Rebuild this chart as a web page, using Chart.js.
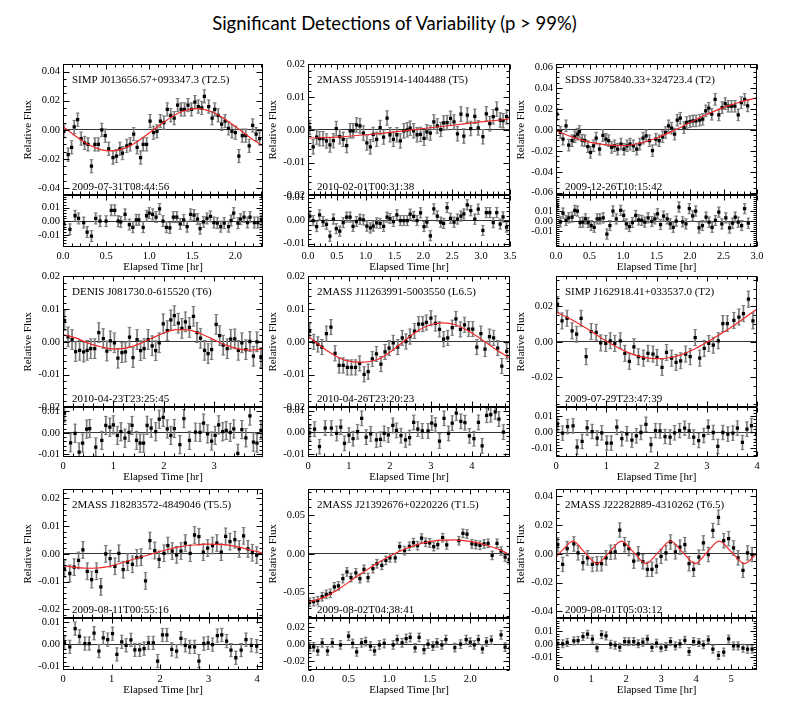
<!DOCTYPE html>
<html>
<head>
<meta charset="utf-8">
<title>Significant Detections of Variability</title>
<script src="https://cdn.jsdelivr.net/npm/chart.js@4.4.1/dist/chart.umd.min.js"></script>
<style>
  html, body { margin: 0; padding: 0; background: #fff; }
  #page { position: relative; width: 789px; height: 702px; overflow: hidden; background: #fff; }
  #title {
    position: absolute; left: 0; top: 11px; width: 789px;
    text-align: center; font: 18.5px Lato, "Open Sans", sans-serif; line-height: 24px; color: #000;
  }
  canvas { position: absolute; }
</style>
</head>
<body>
<div id="page">
  <div id="title">Significant Detections of Variability (p &gt; 99%)</div>
</div>
<script>
// ---- Light curves: elapsed time [hr], relative flux, residuals, fitted model ----

// SIMP J013656.57+093347.3
const p1Time = [0.01,0.06,0.1,0.13,0.17,0.21,0.25,0.29,0.33,0.37,0.41,0.45,0.49,0.53,0.58,0.62,0.66,0.69,0.74,0.78,0.82,0.86,0.9,0.93,0.97,1.01,1.05,1.09,1.13,1.17,1.21,1.25,1.29,1.33,1.37,1.41,1.45,1.49,1.53,1.57,1.61,1.64,1.69,1.73,1.76,1.8,1.84,1.88,1.92,1.96,2.0,2.04,2.08,2.12,2.16,2.2,2.24,2.28];
const p1Flux = [-0.001,-0.017,-0.012,0.002,0.007,-0.006,-0.009,-0.010,-0.025,-0.010,-0.010,0.000,-0.004,-0.013,-0.019,-0.018,-0.013,-0.016,-0.011,-0.010,-0.003,-0.012,-0.019,-0.010,-0.010,0.006,-0.002,-0.001,0.006,0.005,0.014,0.010,0.008,0.017,0.014,0.014,0.017,0.014,0.019,0.016,0.015,0.023,0.016,0.008,0.014,0.010,0.004,0.006,0.001,-0.001,-0.002,-0.018,-0.004,-0.004,-0.011,0.003,-0.003,-0.006];
const p1ResTime = [0.01,0.08,0.14,0.18,0.24,0.28,0.33,0.38,0.43,0.5,0.56,0.6,0.64,0.67,0.72,0.77,0.81,0.85,0.88,0.93,0.97,1.0,1.04,1.08,1.12,1.16,1.2,1.24,1.28,1.32,1.36,1.4,1.44,1.48,1.52,1.56,1.59,1.63,1.67,1.71,1.75,1.79,1.83,1.87,1.92,1.95,1.98,2.03,2.06,2.1,2.14,2.17,2.22,2.26,2.3];
const p1Res = [-0.002,-0.006,0.004,0.002,-0.001,-0.008,-0.011,0.002,0.0,0.0,0.008,0.008,0.0,-0.0005,0.005,-0.0025,-0.0045,0.001,0.001,-0.0045,0.004,0.006,0.005,0.003,0.009,0.0,-0.0045,-0.005,0.003,0.003,-0.002,0.001,-0.004,0.005,0.0045,0.0015,-0.0055,-0.0005,0.002,0.0035,-0.001,-0.0015,-0.004,-0.0015,-0.004,0.0005,0.006,-0.0015,0.0015,0.003,-0.001,0.003,-0.001,-0.001,0.0005];
const p1FitTime = [0,0.15,0.3,0.45,0.55,0.7,0.85,1.05,1.25,1.4,1.55,1.7,1.85,2.05,2.2,2.32];
const p1Fit = [0.0023,-0.0045,-0.0103,-0.0138,-0.0145,-0.0129,-0.0085,0,0.0085,0.0129,0.0145,0.0129,0.0085,0,-0.0066,-0.0109];

// 2MASS J05591914-1404488
const p2Time = [0.03,0.09,0.15,0.2,0.26,0.32,0.38,0.44,0.49,0.55,0.61,0.67,0.73,0.78,0.84,0.9,0.96,1.02,1.08,1.13,1.19,1.25,1.31,1.37,1.42,1.48,1.54,1.6,1.66,1.72,1.77,1.83,1.89,1.95,2.01,2.06,2.12,2.18,2.24,2.3,2.35,2.41,2.47,2.53,2.59,2.65,2.7,2.76,2.82,2.89,2.95,3.03,3.09,3.15,3.21,3.27,3.33,3.38,3.44];
const p2Flux = [0.0007,-0.0052,-0.0022,-0.0027,-0.0027,-0.0034,-0.0046,-0.0033,0.0004,-0.0021,-0.0029,-0.0048,-0.0003,-0.0003,0.0015,0.0012,-0.001,-0.004,-0.0052,-0.0014,-0.0029,0.0007,-0.0022,0.0036,-0.0015,-0.0029,-0.0015,-0.0034,-0.0003,0.0,0.0005,-0.0003,-0.0015,-0.0014,-0.0026,-0.0006,-0.001,0.0024,0.0012,0.0001,0.0021,0.0022,0.0035,0.0024,-0.0012,0.0048,-0.0019,0.0045,0.0004,0.0041,0.0006,-0.0021,0.0049,0.0019,0.004,0.0063,0.003,0.0028,0.004];
const p2ResTime = p2Time;
const p2Res = [0.002,0.0,-0.0026,0.0025,-0.0004,-0.0016,-0.0068,0.0007,-0.0035,-0.0046,-0.0009,0.0015,0.0015,-0.0025,-0.0004,0.0006,0.0003,-0.0024,-0.0032,-0.0024,-0.001,-0.0012,-0.0025,0.0015,0.0009,-0.0004,0.0025,0.0,0.0,0.0,0.0028,0.0018,0.0,0.0034,-0.0026,-0.0007,-0.0066,0.0051,0.002,-0.0007,-0.0012,0.0057,0.001,-0.0007,0.0007,0.002,0.0029,0.0069,0.0043,0.0006,0.005,-0.0043,0.0035,0.0035,-0.0009,0.0035,-0.0015,0.0016,-0.0028];
const p2FitTime = [0,0.5,1,1.5,2,2.5,3,3.5];
const p2Fit = [-0.0025,-0.0022,-0.0015,-0.0006,0.0004,0.0014,0.0024,0.0033];

// SDSS J075840.33+324723.4
const p3Time = [0.015,0.065,0.105,0.15,0.19,0.24,0.28,0.32,0.35,0.39,0.43,0.475,0.515,0.56,0.6,0.65,0.7,0.745,0.785,0.83,0.875,0.92,0.97,1.015,1.06,1.105,1.155,1.205,1.25,1.3,1.345,1.395,1.44,1.49,1.54,1.59,1.635,1.68,1.725,1.77,1.81,1.855,1.91,1.95,2.0,2.045,2.09,2.145,2.19,2.235,2.28,2.325,2.375,2.43,2.48,2.525,2.57,2.62,2.67,2.72,2.765,2.815,2.86];
const p3Flux = [0.0149,-0.0025,-0.0089,0.0038,-0.0146,-0.0104,-0.0066,-0.0041,-0.0016,-0.0098,-0.0104,-0.0161,-0.0215,-0.0152,-0.0079,-0.0184,-0.0054,-0.0089,-0.0104,-0.0168,-0.0152,-0.0184,-0.0136,-0.0184,-0.0152,-0.0136,-0.0152,-0.0184,-0.0136,-0.0079,-0.0057,-0.0104,-0.0199,-0.0089,-0.0104,-0.0066,-0.0025,0.0038,0.0016,-0.0041,0.0092,0.0111,0.0022,0.007,0.0079,0.0085,0.0085,0.0092,0.0101,0.018,0.0206,0.0149,0.0291,0.0142,0.0212,0.025,0.0225,0.0225,0.0225,0.0142,0.0259,0.0291,0.0228];
const p3ResTime = [0.015,0.065,0.105,0.15,0.19,0.24,0.28,0.32,0.36,0.4,0.44,0.48,0.525,0.57,0.615,0.655,0.705,0.76,0.805,0.85,0.9,0.965,1.01,1.05,1.095,1.14,1.19,1.235,1.28,1.325,1.375,1.43,1.475,1.515,1.56,1.605,1.66,1.705,1.75,1.795,1.835,1.89,1.94,1.99,2.04,2.085,2.135,2.185,2.24,2.285,2.33,2.38,2.43,2.475,2.535,2.59,2.635,2.675,2.72,2.77,2.815,2.87];
const p3Res = [0.015,-0.0007,0.008,0.0007,0.0033,0.004,0.0107,0.01,-0.0013,-0.001,0.0023,-0.0013,-0.0043,-0.006,0.0023,0.0023,0.0033,-0.0127,-0.0043,0.01,0.0023,0.0107,0.0057,-0.0027,-0.0053,-0.0013,0.0057,0.0013,0.0007,-0.001,0.0033,-0.0003,0.0023,0.0073,-0.0033,0.005,0.0023,-0.0027,-0.006,0.0,0.014,-0.0007,-0.0027,0.0123,0.0053,0.01,-0.0067,-0.0043,0.004,-0.001,-0.006,0.0007,0.009,-0.0027,0.0033,-0.0067,-0.002,0.004,-0.001,-0.0043,0.0123,-0.002];
const p3FitTime = [0,0.25,0.5,0.75,1,1.25,1.5,1.75,2,2.25,2.5,2.75,3];
const p3Fit = [-0.001,-0.007,-0.0118,-0.0143,-0.015,-0.0128,-0.0078,-0.001,0.007,0.0148,0.0212,0.0265,0.0305];

// DENIS J081730.0-615520
const p4Time = [0.03,0.1,0.18,0.25,0.33,0.41,0.48,0.55,0.63,0.71,0.8,0.87,0.94,1.02,1.09,1.17,1.24,1.32,1.39,1.47,1.54,1.61,1.69,1.77,1.84,1.91,1.99,2.07,2.14,2.21,2.29,2.36,2.43,2.51,2.59,2.66,2.73,2.81,2.88,2.95,3.04,3.11,3.18,3.26,3.33,3.41,3.48,3.55,3.63,3.71,3.78,3.85,3.93];
const p4Flux = [0.0065,0.0015,0.0007,-0.003,-0.0026,-0.0031,-0.0026,-0.0021,-0.0021,0.0028,0.001,-0.0028,0.0003,-0.0003,-0.005,-0.0033,-0.0031,0.0014,-0.0048,0.0007,-0.0027,-0.0021,0.0007,-0.0012,-0.0027,-0.0003,0.0055,0.0034,0.0067,0.008,0.0057,0.0041,0.0061,0.0044,0.0078,0.0028,0.0011,-0.0026,-0.0036,-0.0024,0.0053,0.0019,-0.001,-0.0021,0.0008,0.0009,-0.0026,-0.0003,-0.0024,0.0001,-0.0044,0.0,-0.0048];
const p4ResTime = [0.03,0.15,0.24,0.32,0.39,0.47,0.53,0.65,0.77,0.85,0.93,1.0,1.08,1.15,1.23,1.31,1.37,1.46,1.53,1.6,1.67,1.75,1.84,1.91,1.99,2.07,2.14,2.21,2.32,2.4,2.51,2.63,2.72,2.79,2.87,2.95,3.02,3.09,3.17,3.24,3.32,3.39,3.47,3.55,3.63,3.71,3.78,3.85,3.93];
const p4Res = [0.0091,-0.0046,-0.0002,-0.0089,-0.0048,0.0017,0.002,-0.0066,-0.0035,0.0034,0.0026,0.0037,-0.0012,0.0005,-0.0025,0.0002,0.0034,-0.0035,-0.0048,-0.0048,0.0035,0.0022,0.0005,0.0063,0.0072,0.0018,-0.0012,0.002,-0.0055,0.0066,-0.0035,0.0003,0.0002,0.0045,-0.0005,-0.0038,-0.0012,0.0037,0.0005,0.0011,0.0002,0.0018,-0.0095,0.0015,-0.0023,0.0078,-0.0043,-0.0048,0.0011];
const p4FitTime = [0,0.25,0.5,0.75,1,1.25,1.5,1.75,2,2.25,2.5,2.75,3,3.25,3.5,3.75,3.97];
const p4Fit = [0.0022,0.0012,-0.0004,-0.0015,-0.0022,-0.0019,-0.0007,0.001,0.0027,0.0037,0.0036,0.0024,0.0006,-0.0011,-0.0022,-0.0025,-0.0022];

// 2MASS J11263991-5003550
const p5Time = [0.04,0.14,0.24,0.34,0.45,0.56,0.66,0.76,0.86,0.96,1.06,1.16,1.26,1.37,1.47,1.57,1.67,1.78,1.88,1.98,2.08,2.19,2.3,2.39,2.49,2.6,2.7,2.8,2.89,3.0,3.11,3.21,3.31,3.41,3.52,3.61,3.72,3.82,3.92,4.02,4.12,4.22,4.32,4.43,4.53,4.63,4.73,4.85];
const p5Flux = [0.0033,0.0,-0.0008,-0.0016,0.0025,0.0045,-0.0035,-0.0072,-0.0072,-0.0078,-0.0078,-0.0078,-0.0066,-0.0099,-0.0091,-0.0052,-0.0037,-0.0068,-0.0031,-0.0019,-0.0003,-0.0016,0.0012,0.0001,0.0016,0.0033,0.0054,0.0054,0.0059,0.0072,0.0056,0.0038,0.0008,0.0012,0.0043,0.007,0.0038,0.0052,0.0039,0.0039,-0.0016,0.0025,-0.0022,0.0016,0.0012,-0.0019,-0.0074,-0.0029];
const p5ResTime = [0.04,0.16,0.28,0.42,0.57,0.7,0.8,0.89,1.0,1.1,1.21,1.31,1.42,1.53,1.67,1.77,1.86,1.96,2.07,2.16,2.27,2.38,2.48,2.58,2.68,2.79,2.93,3.02,3.11,3.21,3.32,3.43,3.52,3.62,3.73,3.83,3.94,4.05,4.16,4.25,4.36,4.46,4.57,4.66,4.77];
const p5Res = [-0.0003,0.0014,-0.0067,0.0019,0.0019,-0.0006,0.0023,-0.0052,-0.0014,-0.003,0.0002,0.0064,-0.0023,-0.0008,-0.0036,-0.0033,-0.0006,-0.0013,0.0031,0.0008,-0.0016,-0.0036,-0.0025,0.0045,0.0014,0.0006,0.0006,0.0042,0.0033,-0.0041,0.0064,-0.0006,0.0042,0.0088,0.005,0.0044,-0.0017,-0.003,0.0045,-0.0063,0.0078,0.0081,0.0094,0.0061,0.0];
const p5FitTime = [0,0.3,0.6,0.9,1.3,1.7,2,2.3,2.7,3,3.3,3.6,4,4.3,4.6,4.93];
const p5Fit = [0.0018,-0.0012,-0.0038,-0.0056,-0.0063,-0.0054,-0.0032,-0.0002,0.0035,0.0053,0.0058,0.0052,0.0027,0.0002,-0.0025,-0.005];

// SIMP J162918.41+033537.0
const p6Time = [0.03,0.12,0.22,0.32,0.41,0.5,0.6,0.7,0.8,0.89,0.99,1.08,1.17,1.28,1.37,1.46,1.55,1.64,1.74,1.83,1.93,2.01,2.11,2.2,2.3,2.39,2.48,2.58,2.67,2.77,2.86,2.95,3.04,3.13,3.23,3.32,3.41,3.54,3.64,3.73,3.83,3.92];
const p6Flux = [0.0211,0.0118,0.0133,0.0062,0.0043,0.0133,-0.0084,0.0058,0.0054,-0.0006,-0.0009,0.0006,-0.0009,0.0006,-0.0065,-0.011,-0.0028,-0.0084,-0.0092,-0.0065,-0.0069,-0.0088,-0.0144,-0.006,-0.0092,-0.0116,-0.0107,-0.0069,-0.0084,0.0024,-0.0092,-0.0037,-0.0009,-0.0019,0.0006,0.0103,0.0103,0.0121,0.014,0.0159,0.0241,0.0118];
const p6ResTime = [0.03,0.13,0.23,0.34,0.42,0.52,0.62,0.72,0.82,0.91,1.01,1.1,1.21,1.31,1.41,1.51,1.6,1.69,1.79,1.89,1.98,2.07,2.17,2.27,2.36,2.46,2.56,2.65,2.74,2.84,2.94,3.03,3.13,3.22,3.32,3.42,3.52,3.61,3.71,3.8,3.89,3.99];
const p6Res = [0.0052,-0.0006,0.0035,0.0039,-0.0093,-0.0058,0.0027,0.0004,-0.0037,-0.0004,-0.0068,-0.0068,0.0031,-0.0041,-0.001,-0.0049,-0.0023,-0.0002,0.0049,-0.0078,0.001,0.0008,-0.0027,-0.0031,-0.0004,0.001,0.0025,0.0008,-0.0031,-0.0052,-0.0021,0.0031,-0.0002,-0.0089,-0.0002,-0.0012,-0.0006,0.0025,-0.0064,0.0019,0.0041,-0.001];
const p6FitTime = [0,0.25,0.5,0.75,1,1.25,1.5,1.75,2,2.25,2.5,2.75,3,3.25,3.5,3.75,4];
const p6Fit = [0.0168,0.0135,0.0095,0.005,0.0005,-0.0035,-0.0068,-0.0088,-0.0095,-0.009,-0.0072,-0.0042,-0.0003,0.004,0.0085,0.0135,0.0185];

// 2MASS J18283572-4849046
const p7Time = [0.03,0.14,0.23,0.32,0.41,0.5,0.59,0.69,0.78,0.88,0.97,1.07,1.15,1.24,1.33,1.43,1.52,1.61,1.7,1.79,1.89,1.98,2.08,2.16,2.25,2.34,2.43,2.52,2.62,2.71,2.8,2.89,2.98,3.08,3.17,3.26,3.35,3.44,3.54,3.63,3.72,3.81,3.9,3.99];
const p7Flux = [-0.0054,-0.0071,-0.0048,-0.0024,0.0014,-0.0063,-0.0093,-0.0063,-0.0119,0.0,-0.0017,-0.0045,0.0002,-0.0057,-0.003,-0.0038,-0.0014,-0.0012,-0.0098,0.0048,0.0012,-0.002,0.0002,0.003,0.001,-0.0004,0.001,0.0039,0.0002,0.0068,0.0062,0.0006,0.0021,0.003,0.0039,0.0006,0.0063,0.0044,0.0051,0.0018,0.0065,0.0018,0.0004,-0.0005];
const p7ResTime = [0.03,0.14,0.25,0.34,0.45,0.54,0.64,0.74,0.83,0.92,1.02,1.11,1.21,1.3,1.4,1.48,1.58,1.67,1.76,1.86,1.95,2.05,2.14,2.24,2.34,2.43,2.52,2.61,2.71,2.8,2.9,2.99,3.08,3.18,3.27,3.37,3.46,3.56,3.67,3.77,3.88,3.99];
const p7Res = [0.0006,-0.0012,0.0071,0.0036,0.0003,0.0003,0.005,-0.0032,0.0029,0.0021,0.0048,-0.0047,0.0011,-0.0005,0.002,-0.0026,-0.0026,-0.002,0.0006,0.0006,-0.0077,0.0042,0.0042,-0.0024,-0.0032,0.0027,-0.0005,-0.0012,-0.0012,-0.0077,0.0002,0.0006,-0.0002,0.0039,0.0042,0.0014,-0.0027,-0.0062,-0.0027,0.0021,-0.0005,-0.0009];
const p7FitTime = [0,0.3,0.6,0.9,1.2,1.5,1.8,2.1,2.4,2.7,3,3.3,3.6,3.9,4.12];
const p7Fit = [-0.0043,-0.005,-0.0052,-0.0047,-0.0033,-0.0017,-0.0002,0.0013,0.0025,0.0032,0.0035,0.0033,0.0025,0.0012,0.0003];

// 2MASS J21392676+0220226
const p8Time = [0.02,0.07,0.12,0.175,0.225,0.275,0.325,0.375,0.43,0.48,0.53,0.59,0.64,0.69,0.74,0.8,0.85,0.91,0.96,1.01,1.075,1.13,1.19,1.25,1.3,1.35,1.4,1.45,1.5,1.55,1.6,1.66,1.71,1.86,1.91,1.96,2.02,2.07,2.12,2.17,2.22,2.27,2.33,2.38,2.43,2.48];
const p8Flux = [-0.0623,-0.0614,-0.0602,-0.0551,-0.0521,-0.0508,-0.0424,-0.0411,-0.0318,-0.0233,-0.0305,-0.0246,-0.0318,-0.0199,-0.0305,-0.0191,-0.0127,-0.0148,-0.0085,-0.0051,-0.0051,0.0093,0.0042,0.0097,0.0144,0.0106,0.0203,0.0148,0.014,0.0093,0.0119,0.0208,0.0114,0.0169,0.0263,0.0254,0.0127,0.0119,0.011,0.0127,0.0136,-0.0021,0.0136,0.0034,-0.0042,-0.0076];
const p8ResTime = [0.02,0.07,0.12,0.175,0.24,0.3,0.4,0.5,0.55,0.6,0.66,0.71,0.77,0.82,0.88,0.94,1.05,1.1,1.16,1.21,1.26,1.32,1.37,1.43,1.48,1.54,1.59,1.65,1.7,1.81,1.88,1.95,2.0,2.05,2.1,2.15,2.2,2.26,2.38,2.43,2.49];
const p8Res = [-0.0031,-0.0031,-0.0078,0.0016,-0.0078,0.0016,-0.0008,0.0093,0.0008,-0.0089,0.0016,0.0031,-0.0023,-0.0078,-0.0008,0.0008,-0.0008,0.0054,0.0016,0.0066,0.0078,-0.0043,0.0078,-0.0062,0.0,-0.0023,0.0016,-0.0008,0.0054,-0.0039,0.0,0.0054,0.0023,-0.0008,0.0054,-0.0054,0.0027,0.0047,0.0109,-0.0035,-0.0047];
const p8FitTime = [0,0.2,0.4,0.6,0.8,1,1.2,1.4,1.6,1.8,2,2.2,2.4,2.49];
const p8Fit = [-0.062,-0.056,-0.044,-0.029,-0.0155,-0.0035,0.0065,0.0135,0.0172,0.018,0.016,0.011,0.0035,-0.0015];

// 2MASS J22282889-4310262
const p9Time = [0.05,0.19,0.32,0.51,0.63,0.77,0.9,1.04,1.17,1.3,1.43,1.56,1.69,1.82,1.96,2.08,2.22,2.35,2.48,2.61,2.74,2.87,3.0,3.14,3.27,3.41,3.54,3.68,3.8,3.93,4.08,4.21,4.35,4.48,4.64,4.79,4.93,5.07,5.2,5.34,5.47,5.6];
const p9Flux = [0.0064,-0.0074,0.0037,0.0069,0.0007,-0.0062,-0.0028,-0.0074,-0.0069,-0.0069,-0.0028,0.0011,0.0014,0.0166,0.0064,0.0037,-0.0051,0.0,-0.0055,-0.0108,-0.0108,-0.0085,-0.0018,0.0007,0.0083,0.0014,0.0046,0.0064,-0.0069,-0.0108,-0.0023,0.0076,-0.0005,0.0163,0.0255,0.0092,0.0106,0.0041,-0.0028,-0.0115,0.0007,-0.0005];
const p9ResTime = p9Time;
const p9Res = [0.0003,0.0003,0.0013,0.0025,0.0028,0.0058,0.0076,0.0038,-0.0028,0.0073,0.0063,0.0,-0.0008,-0.0023,0.002,0.0018,0.002,0.0003,0.0015,0.0038,-0.0025,0.0008,-0.0028,-0.0018,0.002,-0.0013,0.0003,0.003,-0.0056,0.002,0.0013,-0.0005,0.0033,-0.0038,-0.0086,-0.006,0.004,-0.0013,-0.0013,-0.003,-0.0038,-0.0038];
const p9FitTime = [0,0.24,0.48,0.82,1.17,1.52,1.87,2.22,2.57,2.92,3.27,3.62,3.97,4.31,4.66,5.02,5.38,5.74];
const p9Fit = [-0.0023,0.004,0.0088,0.001,-0.0068,0.001,0.0088,0.001,-0.0068,0.001,0.0088,0.001,-0.0068,0.001,0.0088,0.001,-0.0068,0.0005];

// Panel labels
const panelNames = [
  'SIMP J013656.57+093347.3 (T2.5)', '2MASS J05591914-1404488 (T5)', 'SDSS J075840.33+324723.4 (T2)',
  'DENIS J081730.0-615520 (T6)', '2MASS J11263991-5003550 (L6.5)', 'SIMP J162918.41+033537.0 (T2)',
  '2MASS J18283572-4849046 (T5.5)', '2MASS J21392676+0220226 (T1.5)', '2MASS J22282889-4310262 (T6.5)'
];
const panelDates = [
  '2009-07-31T08:44:56', '2010-02-01T00:31:38', '2009-12-26T10:15:42',
  '2010-04-23T23:25:45', '2010-04-26T23:20:23', '2009-07-29T23:47:39',
  '2009-08-11T00:55:16', '2009-08-02T04:38:41', '2009-08-01T05:03:12'
];

// Typical error bar half-lengths (main light curve / residuals)
const mainErr = [0.0045, 0.0022, 0.0055, 0.003, 0.0023, 0.0045, 0.003, 0.0055, 0.005];
const resErr = [0.004, 0.0022, 0.005, 0.0042, 0.0034, 0.0045, 0.003, 0.005, 0.003];

// Axis ticks and ranges
const xTicks = [
  [0, 0.5, 1, 1.5, 2], [0, 0.5, 1, 1.5, 2, 2.5, 3, 3.5], [0, 0.5, 1, 1.5, 2, 2.5, 3],
  [0, 1, 2, 3], [0, 1, 2, 3, 4], [0, 1, 2, 3, 4],
  [0, 1, 2, 3, 4], [0, 0.5, 1, 1.5, 2], [0, 1, 2, 3, 4, 5]
];
const xMax = [2.32, 3.5, 3.0, 3.97, 4.93, 4.0, 4.12, 2.49, 5.74];
const mainTicks = [
  [-0.04, -0.02, 0, 0.02, 0.04], [-0.02, -0.01, 0, 0.01, 0.02], [-0.06, -0.04, -0.02, 0, 0.02, 0.04, 0.06],
  [-0.02, -0.01, 0, 0.01, 0.02], [-0.02, -0.01, 0, 0.01, 0.02], [-0.02, 0, 0.02],
  [-0.02, -0.01, 0, 0.01, 0.02], [-0.05, 0, 0.05], [-0.04, -0.02, 0, 0.02, 0.04]
];
const mainRange = [
  [-0.045, 0.045], [-0.02, 0.02], [-0.0625, 0.0625],
  [-0.02, 0.02], [-0.02, 0.02], [-0.037, 0.037],
  [-0.0233, 0.0233], [-0.083, 0.083], [-0.045, 0.045]
];
const resTicks = [
  [-0.01, 0, 0.01], [-0.01, 0, 0.01], [-0.01, 0, 0.01],
  [-0.01, 0, 0.01], [-0.01, 0, 0.01], [-0.01, 0, 0.01],
  [-0.01, 0, 0.01], [-0.02, 0, 0.02], [-0.01, 0, 0.01]
];
const resRange = [
  [-0.019, 0.019], [-0.0115, 0.011], [-0.0255, 0.0255],
  [-0.0112, 0.0118], [-0.0115, 0.0115], [-0.0155, 0.0155],
  [-0.0118, 0.0118], [-0.03, 0.03], [-0.0197, 0.0197]
];
// minor tick spacing for the IDL style frames
const xMinor = [0.1, 0.1, 0.1, 0.2, 0.2, 0.2, 0.2, 0.1, 0.2];
const mainMinor = [0.005, 0.002, 0.005, 0.002, 0.002, 0.005, 0.002, 0.01, 0.005];
const resMinor = [0.002, 0.002, 0.002, 0.002, 0.002, 0.002, 0.002, 0.005, 0.002];

const panelData = [
  { time: p1Time, flux: p1Flux, resTime: p1ResTime, res: p1Res, fitTime: p1FitTime, fit: p1Fit },
  { time: p2Time, flux: p2Flux, resTime: p2ResTime, res: p2Res, fitTime: p2FitTime, fit: p2Fit },
  { time: p3Time, flux: p3Flux, resTime: p3ResTime, res: p3Res, fitTime: p3FitTime, fit: p3Fit },
  { time: p4Time, flux: p4Flux, resTime: p4ResTime, res: p4Res, fitTime: p4FitTime, fit: p4Fit },
  { time: p5Time, flux: p5Flux, resTime: p5ResTime, res: p5Res, fitTime: p5FitTime, fit: p5Fit },
  { time: p6Time, flux: p6Flux, resTime: p6ResTime, res: p6Res, fitTime: p6FitTime, fit: p6Fit },
  { time: p7Time, flux: p7Flux, resTime: p7ResTime, res: p7Res, fitTime: p7FitTime, fit: p7Fit },
  { time: p8Time, flux: p8Flux, resTime: p8ResTime, res: p8Res, fitTime: p8FitTime, fit: p8Fit },
  { time: p9Time, flux: p9Flux, resTime: p9ResTime, res: p9Res, fitTime: p9FitTime, fit: p9Fit }
];

// ---- Page layout (plot box edges in page pixels) ----
const colLeft = [63, 308, 556];
const colRight = [263, 510, 757];
const rowTop = [63, 275, 488];
const rowMid = [195, 407, 618];
const rowBottom = [247, 457, 670];
const AXIS_W = 50, PAD_TOP = 8, PAD_RIGHT = 10, XAXIS_H = 30;

const SERIF = '"Liberation Serif", "DejaVu Serif", serif';
const ERR_COLOR = '#7a7a7a';
const FIT_COLOR = 'rgb(240, 40, 40)';

Chart.defaults.font.family = SERIF;
Chart.defaults.color = '#000';

/**
 * Draws the IDL-like plot boxes: frame, inward major/minor ticks on all sides,
 * and the object name / date stamp inside the light curve box.
 */
const idlFrame = {
  id: 'idlFrame',
  afterDatasetsDraw(chart, args, opts) {
    const { ctx, chartArea } = chart;
    const xs = chart.scales.x;
    const L = Math.round(chartArea.left) + 0.5;
    const R = Math.round(chartArea.right) - 0.5;
    ctx.save();
    ctx.strokeStyle = '#000';
    ctx.lineWidth = 1;
    ['y', 'yr'].forEach(id => {
      const ys = chart.scales[id];
      const T = Math.round(ys.top) + 0.5;
      const B = Math.round(ys.bottom) - 0.5;
      ctx.beginPath();
      tickMarks(xs, opts.xMinor).forEach(t => {
        const px = Math.round(xs.getPixelForValue(t.v)) + 0.5;
        const len = t.major ? 5 : 3;
        ctx.moveTo(px, T); ctx.lineTo(px, T + len);
        ctx.moveTo(px, B); ctx.lineTo(px, B - len);
      });
      tickMarks(ys, opts.yMinor[id]).forEach(t => {
        const py = Math.round(ys.getPixelForValue(t.v)) + 0.5;
        const len = t.major ? 6 : 3;
        ctx.moveTo(L, py); ctx.lineTo(L + len, py);
        ctx.moveTo(R, py); ctx.lineTo(R - len, py);
      });
      ctx.stroke();
      ctx.strokeRect(L, T, R - L, B - T);
    });
    // labels inside the light curve box
    const ym = chart.scales.y;
    ctx.fillStyle = '#000';
    ctx.font = '11px ' + SERIF;
    ctx.textAlign = 'left';
    ctx.textBaseline = 'middle';
    ctx.fillText(opts.name, chartArea.left + 9, ym.top + 16);
    ctx.fillText(opts.date, chartArea.left + 9, ym.bottom - 8);
    ctx.restore();
  }
};

// Lists the minor tick positions of a scale, flagging the ones that are major ticks
function tickMarks(scale, step) {
  const majors = scale.ticks.map(t => t.value);
  const out = [];
  const start = Math.ceil(scale.min / step - 1e-6);
  const end = Math.floor(scale.max / step + 1e-6);
  for (let k = start; k <= end; k++) {
    const v = k * step;
    out.push({ v, major: majors.some(m => Math.abs(m - v) < step * 0.01) });
  }
  return out;
}

function points(ts, vs) {
  return ts.map((t, k) => ({ x: t, y: vs[k] }));
}

// Datasets for one sub plot: error bars, caps, data points and (optionally) the fit
function subplotSets(axis, ts, vs, err, fitT, fitV) {
  const sets = [
    {
      type: 'bar', yAxisID: axis, order: 4,
      data: ts.map((t, k) => ({ x: t, y: [vs[k] - err, vs[k] + err] })),
      backgroundColor: ERR_COLOR, borderWidth: 0, barThickness: 1, grouped: false
    },
    {
      type: 'scatter', yAxisID: axis, order: 3,
      data: ts.flatMap((t, k) => [{ x: t, y: vs[k] - err }, { x: t, y: vs[k] + err }]),
      pointStyle: 'line', pointRadius: 1.8, pointBorderColor: ERR_COLOR, pointBorderWidth: 1
    },
    {
      type: 'scatter', yAxisID: axis, order: 2,
      data: points(ts, vs),
      pointStyle: 'rect', pointRadius: 2.3, pointBackgroundColor: '#000', pointBorderWidth: 0
    }
  ];
  if (fitT) {
    sets.push({
      type: 'line', yAxisID: axis, order: 1,
      data: points(fitT, fitV),
      borderColor: FIT_COLOR, borderWidth: 1.2, pointRadius: 0, fill: false,
      cubicInterpolationMode: 'monotone'
    });
  }
  return sets;
}

// Stacked value axis (light curve on top, residuals below)
function valueAxis(tickList, range, weight, title) {
  return {
    type: 'linear', position: 'left', stack: 'panel', stackWeight: weight,
    min: range[0], max: range[1], bounds: 'data',
    afterBuildTicks: s => { s.ticks = tickList.map(v => ({ value: v })); },
    afterFit: s => { s.width = AXIS_W; },
    ticks: { autoSkip: false, padding: 3, color: '#000', font: { family: SERIF, size: 10.5 }, callback: v => v.toFixed(2) },
    grid: { drawTicks: false, lineWidth: 1, color: c => (c.tick && c.tick.value === 0 ? '#333' : 'rgba(0,0,0,0)') },
    border: { display: false },
    title: { display: !!title, text: title, color: '#000', font: { family: SERIF, size: 11 }, padding: { top: 8.5, bottom: 0 } }
  };
}

function timeAxis(i) {
  const dec = xTicks[i].some(v => v % 1 !== 0) ? 1 : 0;
  return {
    type: 'linear', position: 'bottom', min: 0, max: xMax[i], bounds: 'data', offset: false,
    afterBuildTicks: s => { s.ticks = xTicks[i].map(v => ({ value: v })); },
    afterFit: s => { s.height = XAXIS_H; },
    ticks: { autoSkip: false, maxRotation: 0, padding: 3, color: '#000', font: { family: SERIF, size: 10.5 }, callback: v => v.toFixed(dec) },
    grid: { display: false, drawTicks: false },
    border: { display: false },
    title: { display: true, text: 'Elapsed Time [hr]', color: '#000', font: { family: SERIF, size: 11 }, padding: { top: 0, bottom: 3 } }
  };
}

function buildPanel(i) {
  const col = i % 3;
  const row = Math.floor(i / 3);
  const d = panelData[i];
  const plotW = colRight[col] - colLeft[col];
  const mainH = rowMid[row] - rowTop[row];
  const resH = rowBottom[row] - rowMid[row];

  const canvas = document.createElement('canvas');
  canvas.width = AXIS_W + plotW + PAD_RIGHT;
  canvas.height = PAD_TOP + mainH + resH + XAXIS_H;
  canvas.style.left = (colLeft[col] - AXIS_W) + 'px';
  canvas.style.top = (rowTop[row] - PAD_TOP) + 'px';
  document.getElementById('page').appendChild(canvas);

  new Chart(canvas, {
    type: 'scatter',
    data: {
      datasets: [
        ...subplotSets('y', d.time, d.flux, mainErr[i], d.fitTime, d.fit),
        ...subplotSets('yr', d.resTime, d.res, resErr[i])
      ]
    },
    options: {
      responsive: false,
      animation: false,
      events: [],
      layout: { padding: { top: PAD_TOP, right: PAD_RIGHT, left: 0, bottom: 0 } },
      plugins: {
        legend: { display: false },
        tooltip: { enabled: false },
        idlFrame: {
          name: panelNames[i], date: panelDates[i],
          xMinor: xMinor[i], yMinor: { y: mainMinor[i], yr: resMinor[i] }
        }
      },
      scales: {
        yr: valueAxis(resTicks[i], resRange[i], resH, ''),
        y: valueAxis(mainTicks[i], mainRange[i], mainH, 'Relative Flux'),
        x: timeAxis(i)
      }
    },
    plugins: [idlFrame]
  });
}

for (let i = 0; i < 9; i++) {
  buildPanel(i);
}
</script>
</body>
</html>
